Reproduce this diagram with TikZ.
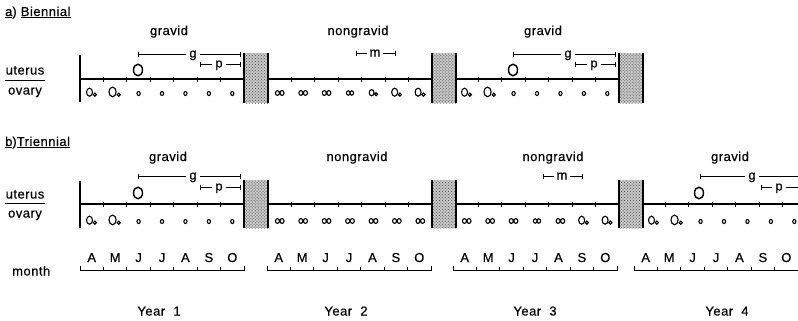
\documentclass[tikz,border=0pt]{standalone}
\usepackage{fontspec}
\setmainfont{Liberation Sans}[FakeBold=0.5, LetterSpace=4]
\usetikzlibrary{patterns}
\begin{document}
\begin{tikzpicture}[x=1bp,y=-1bp,
  lbl/.style={font=\fontsize{13}{15}\selectfont, inner sep=0pt},
  axis/.style={line width=1.2bp},
  tickmark/.style={line width=0.9bp},
  brk/.style={line width=0.9bp},
  brklbl/.style={lbl, fill=white, inner xsep=3bp, inner ysep=0.5bp, anchor=base},
  fol/.style={line width=1.1bp},
  blockfill/.style={fill=black!22},
  blockdots/.style={pattern=crosshatch dots, pattern color=black!70},
  blockedge/.style={line width=1.3bp},
  % follicle symbols in the ovary rows
  dotO/.pic={\draw[line width=1.1bp] (0,0.5) ellipse [x radius=1.6, y radius=2.0];},
  twoo/.pic={\draw[fol] (-2.3,0) ellipse [x radius=2.0, y radius=2.4] (2.3,0) ellipse [x radius=2.0, y radius=2.4];},
  infy/.pic={\draw[fol] (-1.8,0) ellipse [x radius=1.8, y radius=2.2] (1.8,0) ellipse [x radius=1.8, y radius=2.2];},
  smOo/.pic={\draw[fol] (-1.8,-0.3) ellipse [x radius=2.4, y radius=3.1]; \draw[fol] (2.6,1.2) circle [radius=1.5];},
  medOo/.pic={\draw[fol] (-2.2,-0.8) ellipse [x radius=3.0, y radius=4.0]; \draw[fol] (3.1,1.6) circle [radius=1.6];},
  bigOo/.pic={\draw[fol] (-2.6,-1.1) ellipse [x radius=3.6, y radius=4.8]; \draw[fol] (3.6,1.8) circle [radius=1.6];},
  embryo/.pic={\draw[line width=1.4bp] (0,0) ellipse [x radius=4.5, y radius=5.8];}
]
\useasboundingbox (0,0) rectangle (798,320);
\fill[white] (0,0) rectangle (798,320);

\def\d{23.43}

% ---------------- a) Biennial ----------------
\node[lbl, anchor=base west] (titleA) at (5,16) {\underline{a}) \underline{Biennial}};
\node[lbl, anchor=base] (uterA) at (25,74.5) {uterus};
\node[lbl, anchor=base] (ovarA) at (25,94.5) {ovary};
\draw[line width=0.9bp] (5,80) -- (45,80);

\node[lbl, anchor=base] (gravA1) at (169,35) {gravid};
\node[lbl, anchor=base] (nongA2) at (358,35) {nongravid};
\node[lbl, anchor=base] (gravA3) at (543,35) {gravid};

\coordinate (a0) at (80,79);
\coordinate (aEnd) at (619,79);
\draw[axis] (a0) -- (aEnd);
\draw[axis] (80,55) -- (80,102);
\foreach \X in {80,268,455}{
  \foreach \k in {1,...,6}
    \draw[tickmark] ({\X+\k*\d},76.5) -- ++(0,5);
  \fill[blockfill] ({\X+164},53) rectangle ({\X+188},103);
  \fill[blockdots] ({\X+164},53) rectangle ({\X+188},103);
  \draw[blockedge] ({\X+164},53) -- ({\X+164},103);
  \draw[blockedge] ({\X+188},53) -- ({\X+188},103);
}

% ovary row a
\foreach \X/\list in {80/{medOo,bigOo,dotO,dotO,dotO,dotO,dotO},
                      268/{twoo,twoo,twoo,infy,smOo,medOo,medOo},
                      455/{medOo,bigOo,dotO,dotO,dotO,dotO,dotO}}{
  \foreach \p [count=\k] in \list
    \pic at ({\X+(\k-0.5)*\d},93) {\p};
}

% gravid brackets, row a
\foreach \X in {80,455}{
  \pic at ({\X+58},70) {embryo};
  \coordinate (gL) at ({\X+58},54);
  \coordinate (gR) at ({\X+160},54);
  \draw[brk] (gL) ++(0,-2.5) -- ++(0,5);
  \draw[brk] (gR) ++(0,-2.5) -- ++(0,5);
  \draw[brk] (gL) -- (gR);
  \node[brklbl] (gA) at ({\X+113},57.5) {g};
  \coordinate (pL) at ({\X+120},64);
  \coordinate (pR) at ({\X+160},64);
  \draw[brk] (pL) ++(0,-2.5) -- ++(0,5);
  \draw[brk] (pR) ++(0,-2.5) -- ++(0,5);
  \draw[brk] (pL) -- (pR);
  \node[brklbl] (pA) at ({\X+139},67.5) {p};
}
% menstrual bracket, row a
\coordinate (mL) at (356,53);
\coordinate (mR) at (395,53);
\draw[brk] (mL) ++(0,-2.5) -- ++(0,5);
\draw[brk] (mR) ++(0,-2.5) -- ++(0,5);
\draw[brk] (mL) -- (mR);
\node[brklbl] (mA) at (375,56.5) {m};

% ---------------- b) Triennial ----------------
\node[lbl, anchor=base west] (titleB) at (5,146) {\underline{b})\underline{Triennial}};
\node[lbl, anchor=base] (uterB) at (25,198.5) {uterus};
\node[lbl, anchor=base] (ovarB) at (25,217.5) {ovary};
\draw[line width=0.9bp] (5,203) -- (45,203);

\node[lbl, anchor=base] (gravB1) at (168,161) {gravid};
\node[lbl, anchor=base] (nongB2) at (357,161) {nongravid};
\node[lbl, anchor=base] (nongB3) at (553,161) {nongravid};
\node[lbl, anchor=base] (gravB4) at (730,161) {gravid};

\coordinate (b0) at (80,204);
\coordinate (bEnd) at (798,204);
\draw[axis] (b0) -- (bEnd);
\draw[axis] (80,181) -- (80,228);
\foreach \X in {80,268,455,642}{
  \foreach \k in {1,...,6}
    \draw[tickmark] ({\X+\k*\d},201.5) -- ++(0,5);
}
\foreach \X in {80,268,455}{
  \fill[blockfill] ({\X+164},180) rectangle ({\X+188},228);
  \fill[blockdots] ({\X+164},180) rectangle ({\X+188},228);
  \draw[blockedge] ({\X+164},180) -- ({\X+164},228);
  \draw[blockedge] ({\X+188},180) -- ({\X+188},228);
}

% ovary row b
\foreach \X/\list in {80/{medOo,bigOo,dotO,dotO,dotO,dotO,dotO},
                      268/{twoo,twoo,twoo,twoo,twoo,twoo,twoo},
                      455/{twoo,twoo,twoo,infy,twoo,medOo,medOo},
                      642/{medOo,bigOo,dotO,dotO,dotO,dotO,dotO}}{
  \foreach \p [count=\k] in \list
    \pic at ({\X+(\k-0.5)*\d},221) {\p};
}

% gravid brackets, row b
\pic at (138,193) {embryo};
\coordinate (gbL) at (138,176);
\coordinate (gbR) at (240,176);
\draw[brk] (gbL) ++(0,-2.5) -- ++(0,5);
\draw[brk] (gbR) ++(0,-2.5) -- ++(0,5);
\draw[brk] (gbL) -- (gbR);
\node[brklbl] (gB1) at (193,179.5) {g};
\coordinate (pbL) at (200,187);
\coordinate (pbR) at (240,187);
\draw[brk] (pbL) ++(0,-2.5) -- ++(0,5);
\draw[brk] (pbR) ++(0,-2.5) -- ++(0,5);
\draw[brk] (pbL) -- (pbR);
\node[brklbl] (pB1) at (219,190.5) {p};

\pic at (699,193) {embryo};
\coordinate (gcL) at (700,176);
\coordinate (gcR) at (798,176);
\draw[brk] (gcL) ++(0,-2.5) -- ++(0,5);
\draw[brk] (gcL) -- (gcR);
\node[brklbl] (gB4) at (752,179.5) {g};
\coordinate (pcL) at (761,187);
\coordinate (pcR) at (798,187);
\draw[brk] (pcL) ++(0,-2.5) -- ++(0,5);
\draw[brk] (pcL) -- (pcR);
\node[brklbl] (pB4) at (779,190.5) {p};

% menstrual bracket, row b
\coordinate (mbL) at (543,176);
\coordinate (mbR) at (582,176);
\draw[brk] (mbL) ++(0,-2.5) -- ++(0,5);
\draw[brk] (mbR) ++(0,-2.5) -- ++(0,5);
\draw[brk] (mbL) -- (mbR);
\node[brklbl] (mB) at (562,179.5) {m};

% ---------------- month scale ----------------
\node[lbl, anchor=base west] (monthlbl) at (12,275.5) {month};
\foreach \M [count=\y] in {80,267,453,634}{
  \ifnum\y<4
    \draw[brk] (\M,266) -- (\M,270) -- ({\M+164},270) -- ({\M+164},266);
  \else
    \draw[brk] (\M,266) -- (\M,270) -- (798,270);
  \fi
  \foreach \k in {1,...,6}
    \draw[brk] ({\M+\k*\d},267) -- ++(0,3);
  \foreach \L [count=\k] in {A,M,J,J,A,S,O}
    \node[lbl, anchor=base] (mo-\y-\k) at ({\M+(\k-0.5)*\d},262) {\L};
}
\foreach \xx/\n in {159/1,346/2,535/3,727/4}
  \node[lbl, anchor=base] (year\n) at (\xx,315.5) {Year\ \ \n};
\end{tikzpicture}
\end{document}
